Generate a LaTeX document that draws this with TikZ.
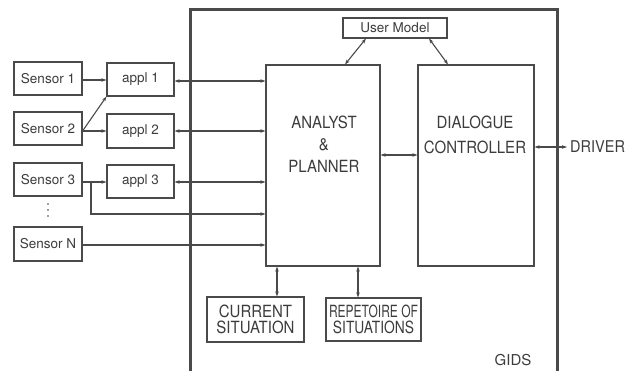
\documentclass[tikz,border=0pt]{standalone}
\usepackage{fontspec}
\setmainfont{TeX Gyre Heros}
\usetikzlibrary{arrows.meta}
\definecolor{ink}{HTML}{4A4A4A}
\definecolor{txt}{HTML}{3C3C3C}
% slightly taller lettering
\newcommand{\tallw}[1]{\scalebox{1}[1.12]{#1}}
\tikzset{
  box/.style={draw=ink, line width=1.1pt, inner sep=0pt},
  lbl/.style={text=txt, inner sep=0pt, align=center},
  link/.style={draw=ink, line width=1.1pt},
  tip/.style={-{Stealth[length=5pt,width=3.5pt]}},
  tips/.style={{Stealth[length=5pt,width=3.5pt]}-{Stealth[length=5pt,width=3.5pt]}},
  small/.style={font=\fontsize{13.5}{15}\selectfont},
  big/.style={font=\fontsize{15}{22}\selectfont},
}
\begin{document}
\begin{tikzpicture}[x=1pt, y=-1pt]
\useasboundingbox (0,0) rectangle (625,371);

% GIDS system frame (open towards the bottom edge)
\draw[ink, line width=3pt] (190,372) -- (190,10) -- (557,10) -- (557,372);
\node[lbl, big, anchor=center] (gids) at (513,360) {GIDS};

% sensors
\node[box, minimum width=68pt, minimum height=33pt, small, text=txt] (s1) at (48,78.5) {Sensor 1};
\node[box, minimum width=68pt, minimum height=33pt, small, text=txt] (s2) at (48,128.5) {Sensor 2};
\node[box, minimum width=68pt, minimum height=33pt, small, text=txt] (s3) at (48,179.5) {Sensor 3};
\node[box, minimum width=68pt, minimum height=34pt, small, text=txt] (sn) at (48,244) {Sensor N};
% vertical ellipsis between Sensor 3 and Sensor N
\foreach \yy in {204,210,216} \fill[txt] (48,\yy) circle (0.8pt);

% applications
\node[box, minimum width=67pt, minimum height=33pt, small, text=txt] (a1) at (140.5,79.5) {appl 1};
\node[box, minimum width=67pt, minimum height=34pt, small, text=txt] (a2) at (140.5,131) {appl 2};
\node[box, minimum width=67pt, minimum height=33pt, small, text=txt] (a3) at (140.5,181.5) {appl 3};

% main modules
\node[box, minimum width=114pt, minimum height=201pt] (ap) at (323,165.5) {};
\node[lbl, big] (aptext) at (324,144) {\tallw{ANALYST}\\\tallw{\&}\\\tallw{PLANNER}};
\node[box, minimum width=116pt, minimum height=201pt] (dc) at (476,165.5) {};
\node[lbl, font=\fontsize{15}{25}\selectfont] (dctext) at (475,134.5) {\tallw{DIALOGUE}\\\tallw{CONTROLLER}};
\node[box, minimum width=104pt, minimum height=20pt, small, text=txt] (um) at (395,28) {User Model};

% knowledge stores
\node[box, minimum width=97pt, minimum height=45pt, font=\fontsize{15}{16.5}\selectfont, text=txt, align=center] (cs) at (255.5,319.5) {\tallw{CURRENT}\\\tallw{SITUATION}};
\node[box, minimum width=95pt, minimum height=43pt, font=\fontsize{15}{16.5}\selectfont, text=txt, align=center] (rs) at (373.5,319.5) {\scalebox{0.8}[1.12]{REPETOIRE OF}\\\scalebox{0.92}[1.12]{SITUATIONS}};

% driver output
\node[lbl, font=\fontsize{14.5}{16}\selectfont, anchor=west] (drv) at (570,147) {\tallw{DRIVER}};
\coordinate (drvend) at (567,147);

% sensor to application links
\draw[link, tip] (s1.east |- 0,80) -- (a1.west |- 0,80);
\draw[link, tip] (s2.east |- 0,131) -- (a2.west |- 0,131);
\draw[link, tip] (s2.east |- 0,131) -- (a1.south west);
\draw[link, tip] (s3.east |- 0,182) -- (a3.west |- 0,182);
\coordinate (s3branch) at (91,182);
\draw[link, tip] (s3branch) -- (91,214) -- (ap.west |- 0,214);
\draw[link, tip] (sn.east |- 0,245) -- (ap.west |- 0,245);

% application to analyst links
\draw[link, tips] (a1.east |- 0,81) -- (ap.west |- 0,81);
\draw[link, tips] (a2.east |- 0,131) -- (ap.west |- 0,131);
\draw[link, tips] (a3.east |- 0,182) -- (ap.west |- 0,182);

% module links
\draw[link, tips] (um.south west -| 366,0) -- (ap.north west -| 345,0);
\draw[link, tips] (um.south west -| 429,0) -- (dc.north west -| 448,0);
\draw[link, tips] (ap.east |- 0,155) -- (dc.west |- 0,155);
\draw[link, tips] (dc.east |- 0,147) -- (drvend);
\draw[link, tips] (ap.south west -| 277,0) -- (cs.north west -| 277,0);
\draw[link, tips] (ap.south west -| 358,0) -- (rs.north west -| 358,0);
\end{tikzpicture}
\end{document}
